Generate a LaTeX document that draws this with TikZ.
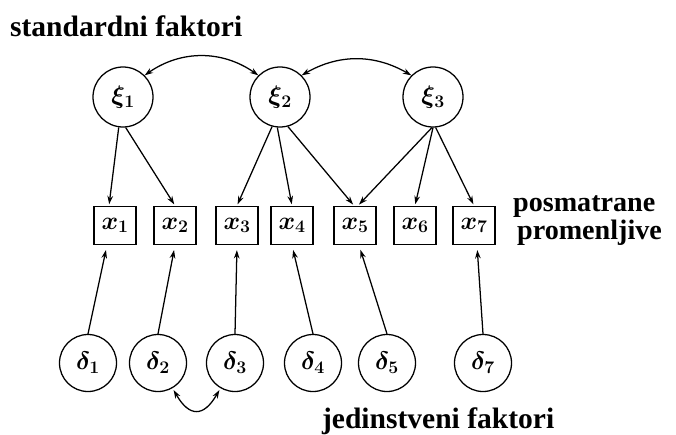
\RequirePackage{fix-cm}
\documentclass[tikz,border=0pt]{standalone}
\usepackage{fontspec}
\setmainfont{Liberation Serif}
\usepackage{amsmath}
\usepackage{tikz}
\usetikzlibrary{arrows.meta, positioning}

\begin{document}
\begin{tikzpicture}[
            latent/.style={circle, draw, line width=1.8pt, minimum size=3cm, inner sep=0pt, font=\fontsize{36}{40}\selectfont\boldmath},
            observed/.style={rectangle, draw, line width=2.2pt, minimum width=2.1cm, minimum height=1.9cm, inner sep=0pt, font=\fontsize{36}{40}\selectfont\boldmath},
            unique/.style={circle, draw, line width=1.8pt, minimum size=2.85cm, inner sep=0pt, font=\fontsize{36}{40}\selectfont\boldmath},
            load/.style={-{Stealth[length=12pt, width=8pt]}, line width=1.8pt},
            cov/.style={{Stealth[length=12pt, width=8pt]}-{Stealth[length=12pt, width=8pt]}, line width=1.8pt},
            heading/.style={font=\bfseries\fontsize{42}{48}\selectfont, anchor=base west, inner sep=0pt}
        ]

        \useasboundingbox (0,0) rectangle (33.8,-21.7);

        % Common factors
        \node[latent] (xi1) at (6.15, -4.85) {$\xi_1$};
        \node[latent] (xi2) at (14, -4.85) {$\xi_2$};
        \node[latent] (xi3) at (21.65, -4.85) {$\xi_3$};

        % Observed variables
        \node[observed] (x1) at (5.75, -11.27) {$x_1$};
        \node[observed] (x2) at (8.75, -11.27) {$x_2$};
        \node[observed] (x3) at (11.85, -11.27) {$x_3$};
        \node[observed] (x4) at (14.6, -11.27) {$x_4$};
        \node[observed] (x5) at (17.75, -11.27) {$x_5$};
        \node[observed] (x6) at (20.75, -11.27) {$x_6$};
        \node[observed] (x7) at (23.7, -11.27) {$x_7$};

        % Unique factors
        \node[unique] (d1) at (4.4, -18.15) {$\delta_1$};
        \node[unique] (d2) at (7.9, -18.15) {$\delta_2$};
        \node[unique] (d3) at (11.75, -18.15) {$\delta_3$};
        \node[unique] (d4) at (15.65, -18.15) {$\delta_4$};
        \node[unique] (d5) at (19.35, -18.15) {$\delta_5$};
        \node[unique] (d7) at (24.15, -18.15) {$\delta_7$};

        % Texts
        \node[heading] (top) at (0.5, -1.8) {standardni faktori};
        \node[heading, font=\bfseries\fontsize{40}{46}\selectfont] (obs1) at (25.65, -10.55) {posmatrane};
        \node[heading, font=\bfseries\fontsize{40}{46}\selectfont] (obs2) at (25.85, -11.95) {promenljive};
        \node[heading] (bottom) at (16.1, -21.4) {jedinstveni faktori};

        % Loadings
        \draw[load, shorten >=2pt] (xi1.-98) -- ([xshift=-0.3cm]x1.north);
        \draw[load, shorten >=2pt] (xi1.-85) -- (x2.north);

        \draw[load, shorten >=2pt] (xi2.-105) -- (x3.north);
        \draw[load, shorten >=2pt] (xi2.-95) -- (x4.north);
        \draw[load, shorten >=2pt] (xi2.-75) -- ([xshift=-0.05cm]x5.north);

        \draw[load, shorten >=2pt] (xi3.-92) -- ([xshift=0.15cm]x5.north);
        \draw[load, shorten >=2pt] (xi3.-90) -- (x6.north);
        \draw[load, shorten >=2pt] (xi3.-85) -- (x7.north);

        % Errors
        \draw[load, shorten >=7pt] (d1.north) -- ([xshift=-0.4cm]x1.south);
        \draw[load, shorten >=7pt] (d2.north) -- (x2.south);
        \draw[load, shorten >=7pt] (d3.north) -- (x3.south);
        \draw[load, shorten >=7pt] (d4.north) -- (x4.south);
        \draw[load, shorten >=7pt] (d5.north) -- ([xshift=0.2cm]x5.south);
        \draw[load, shorten >=7pt] (d7.north) -- ([xshift=0.15cm]x7.south);

        % Covariances
        \draw[cov] (xi1.45) to[bend left=35] (xi2.135);
        \draw[cov] (xi2.45) to[bend left=30] (xi3.135);
        \draw[cov, shorten <=3pt, shorten >=3pt] (d2.-60) to[out=-60, in=-120, looseness=1.8] (d3.-120);

    \end{tikzpicture}
\end{document}
